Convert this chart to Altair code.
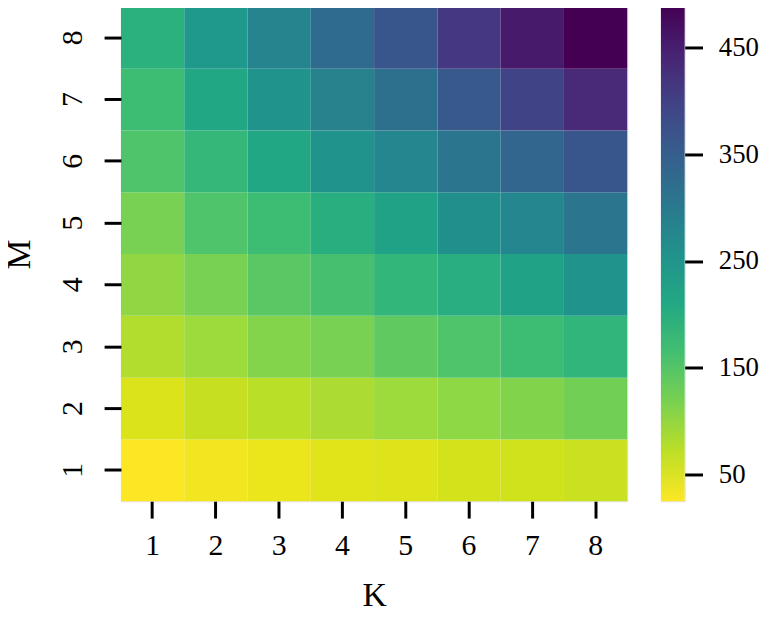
import altair as alt
import pandas as pd

K_LABELS = [1, 2, 3, 4, 5, 6, 7, 8]
M_LABELS = [1, 2, 3, 4, 5, 6, 7, 8]

# values per row (M), columns K=1..8
ROW_M1 = [25, 34, 39, 45, 48, 55, 57, 62]
ROW_M2 = [50, 64, 73, 82, 92, 103, 112, 124]
ROW_M3 = [78, 92, 110, 119, 138, 152, 170, 184]
ROW_M4 = [101, 119, 143, 161, 182, 198, 221, 249]
ROW_M5 = [119, 152, 170, 196, 221, 258, 276, 309]
ROW_M6 = [152, 179, 212, 249, 276, 309, 337, 364]
ROW_M7 = [170, 212, 249, 286, 318, 360, 397, 434]
ROW_M8 = [193, 240, 281, 327, 364, 415, 457, 488]

CBAR_TICKS = [50, 150, 250, 350, 450]
VMIN, VMAX = 25, 488

# viridis reference colours (t = 0, 0.1, ..., 1)
VIRIDIS = ["#440154", "#482475", "#414487", "#355f8d", "#2a788e", "#21918c",
           "#22a884", "#44bf70", "#7ad151", "#bddf26", "#fde725"]

rows = [ROW_M1, ROW_M2, ROW_M3, ROW_M4, ROW_M5, ROW_M6, ROW_M7, ROW_M8]
records = []
for m, row in zip(M_LABELS, rows):
    for k, v in zip(K_LABELS, row):
        records.append({"K": k, "M": m, "value": v})
df = pd.DataFrame(records)

FONT = "Liberation Serif"

heat = alt.Chart(df).mark_rect().encode(
    x=alt.X("K:O", title="K",
            axis=alt.Axis(labelAngle=0, labelFontSize=30, titleFontSize=34,
                          tickSize=17, tickWidth=3, tickColor="black",
                          domain=False, labelPadding=13, titlePadding=18,
                          labelColor="black", titleColor="black",
                          titleFontWeight="normal", labelFont=FONT, titleFont=FONT)),
    y=alt.Y("M:O", title="M", sort="descending",
            axis=alt.Axis(labelAngle=270, labelAlign="center", labelBaseline="alphabetic",
                          labelFontSize=30, titleFontSize=34,
                          tickSize=17, tickWidth=3, tickColor="black",
                          domain=False, labelPadding=23, titlePadding=21,
                          labelColor="black", titleColor="black",
                          titleFontWeight="normal", labelFont=FONT, titleFont=FONT)),
    color=alt.Color("value:Q",
                    scale=alt.Scale(scheme="viridis", reverse=True, domain=[VMIN, VMAX]),
                    legend=None),
).properties(width=511, height=499)

# gradient from bottom (low value, yellow) to top (high value, purple)
n = len(VIRIDIS) - 1
ramp = list(reversed(VIRIDIS))
stops = [alt.GradientStop(color=c, offset=i / n) for i, c in enumerate(ramp)]
grad = alt.Gradient(gradient="linear", stops=stops, x1=0, x2=0, y1=1, y2=0)

cbar_df = pd.DataFrame({"lo": [VMIN], "hi": [VMAX]})
cbar = alt.Chart(cbar_df).mark_rect(color=grad).encode(
    x=alt.value(0), x2=alt.value(24),
    y=alt.Y("lo:Q", title=None,
            scale=alt.Scale(domain=[VMIN, VMAX], nice=False, zero=False),
            axis=alt.Axis(orient="right", values=CBAR_TICKS, labelFontSize=27,
                          tickSize=18, tickWidth=3, tickColor="black", domain=False,
                          grid=False, labelPadding=16, labelColor="black",
                          labelFont=FONT)),
    y2="hi:Q",
).properties(width=24, height=499)

chart = alt.hconcat(heat, cbar, spacing=32).properties(
    padding={"left": -6, "top": -5, "right": 0, "bottom": 0}
).configure_view(stroke=None).configure(font=FONT)

chart.save("out.html", embed_options={"renderer": "svg", "actions": False})
